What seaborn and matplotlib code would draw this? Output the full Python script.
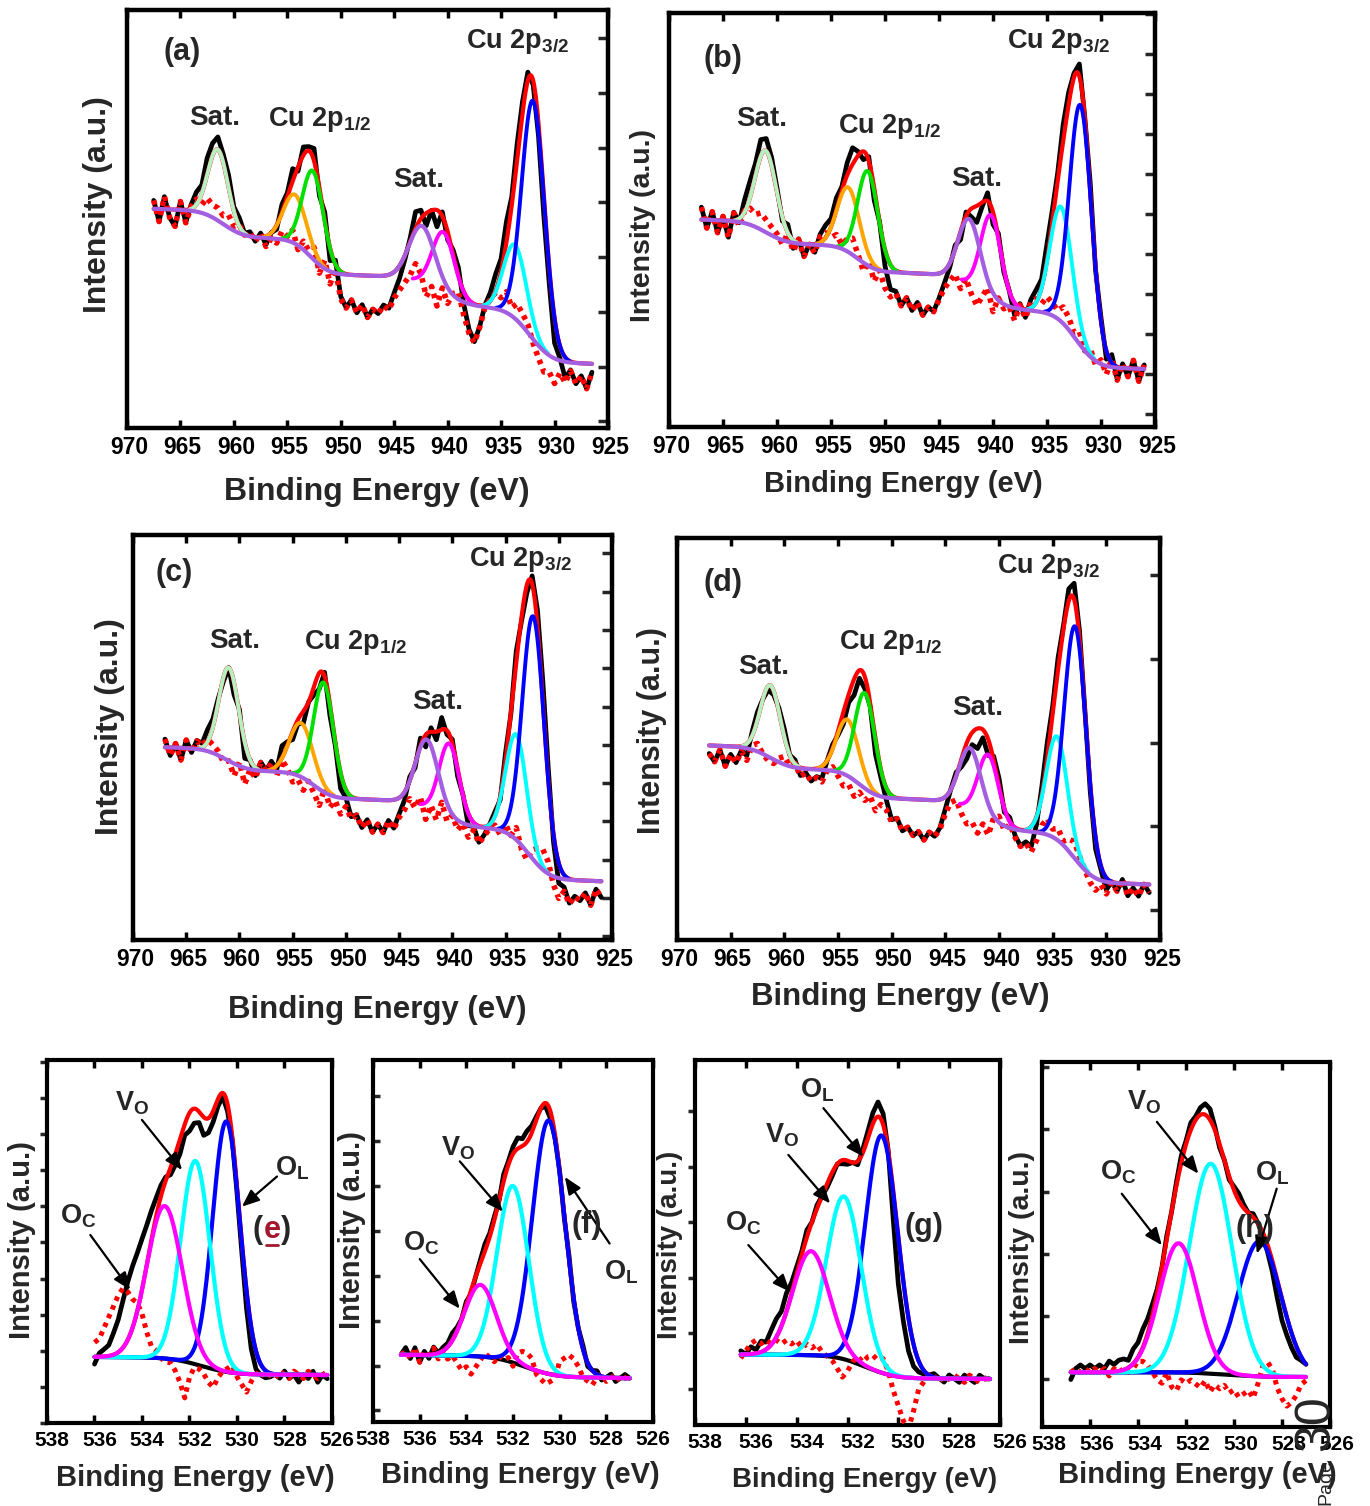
import math
import numpy as np
import pandas as pd
import seaborn as sns
import matplotlib.pyplot as plt
from matplotlib.transforms import ScaledTranslation

# ---------------------------------------------------------------- data
# Cu 2p spectra: grid start (eV), 0.5 eV steps, 83 points each
cu_step = 0.5
cu_start = [967.5, 967.0, 967.0, 967.0]
# residual (data - fit), intensity units (0-100 = axis height)
cu_res_a = [2, -3, 3, -2, -4, 2, -3, 1, 3, 2, 4, 3, 3, 2, 3, 1, 2, 0, 1, -1,
            1, -2, 0, -1, 2, 1, 3, -1, 2, 1, 3, -2, 2, -3, 1, -6, -8, -6, -9, -7,
            -10, -8, -9, -7, -8, -5, -3, -1, 1, 4, 2, -3, 0, -4, 1, -2, 1, 2, -3, -7,
            -9, -5, 0, 2, 4, 3, 5, 2, 4, 3, 2, -1, -3, -5, -4, -6, -3, -5, -2, -5,
            -3, -6, -2]
cu_res_b = [3, -2, 2, -3, 1, -4, 2, -1, 3, 4, 3, 4, 3, 2, 1, -1, 2, -2, 1, -3,
            0, -2, 2, 3, 2, 3, 1, 3, 4, 1, -2, 1, -3, 0, -4, -6, -5, -8, -6, -9,
            -7, -10, -8, -9, -6, -3, -1, 1, -2, 1, -2, -4, -1, 2, -3, 1, -1, 0, -3, 1,
            -2, 2, 3, 2, 4, 3, 2, 4, 3, 1, 3, 0, 2, -1, 1, -2, 2, -3, 1, -2,
            2, -3, 1]
cu_res_c = [2, -2, 1, -3, 2, -1, 2, 1, 3, 2, 1, -1, 0, -3, 1, -4, 0, -2, 2, 0,
            2, -1, 3, 1, -2, -1, -3, 0, -2, -4, 1, -3, -1, -4, -2, -5, -4, -7, -5, -8,
            -6, -8, -5, -7, -4, -2, 1, -1, 2, -3, 1, -2, 3, -1, 1, -2, 0, -3, -1, -4,
            -2, 0, 1, -1, 2, 0, 3, -1, -2, 2, 4, 5, 3, -2, -5, -3, -6, -4, -5, -3,
            -6, -2, -4]
cu_res_d = [-2, -4, -1, -5, -2, -4, -1, -3, 1, 2, 0, -1, -1, 1, 2, 0, 1, -2, -1, -3,
            -2, -3, 0, 1, -1, -3, -2, -4, -2, -3, -1, -4, -2, -3, -6, -5, -8, -7, -9, -8,
            -10, -8, -9, -7, -3, 0, 1, -2, -4, -3, -5, -2, -4, 1, 2, -1, 1, -2, -4, -3,
            -5, -2, 2, 4, 2, 3, 1, 3, 4, 2, 0, -2, -3, -1, -3, 0, -2, 1, -3, -1,
            -3, 0, -2]

# fitted Cu components: (centre eV, height, FWHM eV)
# order: Sat.(high), 2p1/2 a, 2p1/2 b, Sat. a, Sat. b, 2p3/2 a, 2p3/2 b
cu_peaks_a = [(961.5, 17.0, 2.2), (954.3, 11.7, 2.5), (952.6, 21.0, 2.3), (942.4, 13.5, 2.8),
              (940.4, 14.5, 2.4), (933.7, 17.6, 2.5), (932.0, 57.0, 2.5)]
cu_peaks_b = [(961.05, 19.7, 2.3), (953.4, 15.6, 2.4), (951.6, 22.8, 2.2), (942.2, 15.8, 2.4),
              (940.2, 20.0, 2.2), (933.7, 27.7, 2.4), (931.9, 58.0, 2.4)]
cu_peaks_c = [(961.0, 23.0, 2.2), (954.2, 13.3, 2.6), (952.1, 27.0, 2.2), (942.4, 16.8, 2.5),
              (940.3, 18.4, 2.2), (934.0, 26.0, 2.3), (932.4, 60.0, 2.4)]
cu_peaks_d = [(961.3, 18.0, 2.2), (954.1, 14.0, 2.4), (952.5, 23.7, 2.2), (942.7, 15.2, 2.4),
              (941.0, 16.0, 2.2), (934.6, 25.7, 2.3), (932.9, 57.8, 2.4)]
# Shirley-like background: base, slope, steps (centre, sigma, height)
cu_bg_a = (15.3, 0.1, [(932.3, 1.6, 12.5), (940.5, 2.0, 6.5), (952.8, 1.3, 8.0), (961.0, 1.5, 6.0)])
cu_bg_b = (14.0, 0.1, [(932.3, 1.5, 13.0), (941.0, 2.0, 8.0), (952.5, 1.3, 6.0), (961.0, 1.5, 5.0)])
cu_bg_c = (14.5, 0.1, [(932.8, 1.5, 12.0), (941.0, 2.0, 6.0), (953.0, 1.3, 6.0), (961.2, 1.5, 5.0)])
cu_bg_d = (13.8, 0.1, [(933.0, 1.5, 12.0), (941.5, 2.0, 7.0), (953.0, 1.3, 6.5), (961.3, 1.5, 5.0)])

# O 1s spectra: grid start (eV), 0.2 eV steps, 50 points each
o_step = 0.2
o_start = [536.0, 536.8, 536.2, 536.8]
o_dev_e = [-2, 1, 2, 3, 6, 9, 13, 16, 17, 16, 14, 11, 8, 5, 3, 1, -2, -3, -4, -3,
           -5, -4, -3, -5, -4, -3, -2, -1, -2, -1, -2, -3, -5, -6, -5, -3, -2, -1, 0, -1,
           1, -1, 0, -2, 0, -1, 1, -2, 0, -1]
o_res_e = [4, 5, 8, 11, 14, 17, 19, 18, 16, 15, 12, 7, 3, 2, 0, -1, -1, -3, -6, -10,
           -4, -1, -1, -2, -4, -5, -2, 0, 1, 2, -1, -3, -5, -2, 0, 1, -1, 0, -1, 1,
           0, -1, 1, 0, -1, 1, 0, -1, 0, 1]
o_dev_f = [0, 2, -1, 2, -2, 1, -1, 2, 0, 1, 1, 2, 1, 0, 1, -1, 0, 1, 2, 1,
           1, 0, 2, 1, 2, 3, 2, 3, 2, 1, 0, -1, -2, -1, 0, -1, 1, -1, 0, 1,
           -1, 0, 1, -1, 0, 1, -1, 0, 1, 0]
o_res_f = [0, 1, -1, 2, -2, 1, 0, 2, -1, 1, -1, 0, -2, -4, -3, -5, -3, -1, 1, 0,
           -1, 1, 0, 1, -1, 3, 4, 4, 3, -1, -2, -3, -2, -1, 4, 5, 6, 5, 3, 0,
           -1, -2, 0, 1, -1, 0, 1, -1, 0, 1]
o_dev_g = [1, 0, 2, 1, 3, 2, 4, 5, 4, 5, 3, 2, 1, 2, 0, 1, 0, -1, -1, 0,
           -1, -1, 0, -1, 1, 2, 3, 4, 3, 0, -8, -13, -11, -9, -6, -3, -1, 0, 1, 0,
           -1, 1, 0, -1, 1, 0, -1, 1, 0, 0]
o_res_g = [-1, 1, 3, 4, 3, 4, 3, 4, 3, 4, 3, 4, 2, 3, 2, 3, 1, 0, -1, -3,
           -5, -3, 0, 2, 1, 3, 4, 3, 4, 1, -4, -8, -12, -14, -9, -3, -1, 1, 0, 1,
           -1, 0, 1, 0, -1, 1, 0, -1, 0, 1]
o_dev_h = [-2, 1, 2, 1, 2, 1, 2, 1, 3, 2, 3, 3, 2, 4, 4, 5, 4, 3, 1, 0,
           1, 0, 1, 2, 1, 2, 1, 2, 3, 3, 1, -1, 0, -1, 1, 2, 1, 0, 1, 0,
           -1, -2, -3, -5, -6, -5, -4, -3, -1, 0]
o_res_h = [0, 1, 0, 1, 0, 1, 0, 1, -1, 1, 0, 1, 0, 1, 3, 3, 2, 0, -2, -3,
           0, -4, -5, -2, -3, -2, -3, -4, -2, -5, -3, -4, -3, -5, -4, -6, -5, -4, -6, -2,
           3, 4, 2, -3, -6, -8, -7, -5, -2, -1]
# fitted O components: O_C, V_O, O_L  (centre eV, height, FWHM eV)
o_peaks_e = [(533.05, 42.0, 1.75), (531.75, 56.0, 1.45), (530.45, 69.0, 1.35)]
o_peaks_f = [(533.4, 19.8, 1.6), (532.0, 48.8, 1.6), (530.47, 70.0, 1.65)]
o_peaks_g = [(533.44, 28.5, 1.7), (532.14, 44.6, 1.6), (530.66, 65.0, 1.5)]
o_peaks_h = [(532.31, 35.4, 1.9), (530.97, 57.5, 2.1), (528.94, 37.0, 2.1)]
o_bg_e = (13.2, 0.05, [(531.5, 1.0, 4.5)])
o_bg_f = (12.0, 0.10, [(531.5, 1.0, 5.5)])
o_bg_g = (12.6, 0.05, [(531.3, 0.9, 6.2)])
o_bg_h = (13.7, 0.0, [(530.3, 1.2, 1.3)])

cu_tags = ['(a)', '(b)', '(c)', '(d)']
o_tags = ['(e)', '(f)', '(g)', '(h)']
cu_ticks = list(range(970, 924, -5))
o_ticks = list(range(538, 525, -2))

# ---------------------------------------------------------------- style
sns.set_theme(style='white')
plt.rcParams['font.family'] = ['Liberation Sans', 'DejaVu Sans']
plt.rcParams['font.weight'] = 'bold'
plt.rcParams['mathtext.fontset'] = 'custom'
plt.rcParams['mathtext.rm'] = 'Liberation Sans:bold'
plt.rcParams['mathtext.bf'] = 'Liberation Sans:bold'
plt.rcParams['mathtext.it'] = 'Liberation Sans:bold'

W, H = 1370, 1506
fig = plt.figure(figsize=(W / 100, H / 100), dpi=100)

cu_colors = ['#b4f0c0', '#ffa500', '#00e000', '#a45ee0', '#ff00ff', '#00ffff', '#0000ff']
o_colors = ['#ff00ff', '#00ffff', '#0000ff']
erf_v = np.vectorize(math.erf)


def rect(l, t, r, b):
    return [l / W, 1 - b / H, (r - l) / W, (b - t) / H]


def gauss(E, c, h, w):
    return h * np.exp(-4 * np.log(2) * (E - c) ** 2 / w ** 2)


def background(E, par, e_ref):
    base, slope, steps = par
    y = base + slope * (E - e_ref)
    for c, s, h in steps:
        y = y + h * 0.5 * (1 + erf_v((E - c) / (np.sqrt(2) * s)))
    return y


def frame(ax, xlim, ticks, label_dx, spine_w, label_size):
    ax.set_xlim(*xlim)
    ax.set_ylim(0, 100)
    ax.set_xticks(ticks)
    ax.set_xlabel('')
    ax.set_ylabel('')
    for sp in ax.spines.values():
        sp.set_linewidth(spine_w)
        sp.set_color('black')
    ax.tick_params(axis='x', direction='in', top=True, bottom=True, length=6, width=2.5,
                   labelsize=label_size, pad=6, colors='black')
    off = ScaledTranslation(label_dx / 100, 0, fig.dpi_scale_trans)
    for lab in ax.get_xticklabels():
        lab.set_fontweight('bold')
        lab.set_transform(lab.get_transform() + off)


def cu_panel(ax, start, res, peaks, bgp):
    E = start - cu_step * np.arange(len(res))
    F = np.linspace(E[0], E[-1], 600)
    res = np.array(res, dtype=float)
    bgE = background(E, bgp, 926.0)
    bgF = background(F, bgp, 926.0)
    envE = bgE + sum(gauss(E, *p) for p in peaks)
    compF = [gauss(F, *p) for p in peaks]
    envF = bgF + sum(compF)
    df = pd.DataFrame({'E': E, 'counts': envE + res, 'resid': bgE + res})
    sns.lineplot(data=df, x='E', y='counts', ax=ax, color='black', lw=3.4, zorder=2)
    ax.plot(df['E'], df['resid'], color='red', lw=4.0, ls=(0, (0.8, 0.9)), zorder=3)
    sns.lineplot(x=F, y=envF, ax=ax, color='red', lw=3.0, zorder=4)
    for i, (comp, col) in enumerate(zip(compF, cu_colors)):
        y = bgF + comp
        if i == 3:
            sns.lineplot(x=F, y=y, ax=ax, color=col, lw=3.0, zorder=6)
        else:
            m = comp > 0.25
            sns.lineplot(x=F[m], y=y[m], ax=ax, color=col, lw=2.8, zorder=5)


def o_panel(ax, start, dev, res, peaks, bgp):
    E = start - o_step * np.arange(len(dev))
    F = np.linspace(E[0], E[-1], 500)
    bgE = background(E, bgp, 526.0)
    bgF = background(F, bgp, 526.0)
    envE = bgE + sum(gauss(E, *p) for p in peaks)
    compF = [gauss(F, *p) for p in peaks]
    envF = bgF + sum(compF)
    df = pd.DataFrame({'E': E, 'counts': envE + np.array(dev, float),
                       'resid': bgE + np.array(res, float)})
    sns.lineplot(data=df, x='E', y='counts', ax=ax, color='black', lw=3.4, zorder=2)
    sns.lineplot(x=F, y=bgF, ax=ax, color='black', lw=3.0, zorder=2.5)
    ax.plot(df['E'], df['resid'], color='red', lw=3.6, ls=(0, (0.9, 1.0)), zorder=3)
    sns.lineplot(x=F, y=envF, ax=ax, color='red', lw=3.0, zorder=4)
    for i in (2, 1, 0):
        sns.lineplot(x=F, y=bgF + compF[i], ax=ax, color=o_colors[i], lw=3.0, zorder=5 + (2 - i))


def arrow(ax, start, end):
    ax.annotate('', xy=end, xytext=start, xycoords='axes fraction', textcoords='axes fraction',
                arrowprops=dict(arrowstyle='-|>,head_length=0.8,head_width=0.33', color='black',
                                lw=1.6, mutation_scale=13, shrinkA=0, shrinkB=0), zorder=10)


def figtext(x, y, s, size, rot=0, weight='bold'):
    fig.text(x / W, 1 - y / H, s, fontsize=size, rotation=rot, ha='center', va='center',
             fontweight=weight)


# ---------------------------------------------------------------- Cu 2p panels
cu_rects = [(127, 10, 608, 428), (669, 13, 1155, 427), (133, 535, 612, 940), (677, 538, 1160, 940)]
cu_res = [cu_res_a, cu_res_b, cu_res_c, cu_res_d]
cu_peaks = [cu_peaks_a, cu_peaks_b, cu_peaks_c, cu_peaks_d]
cu_bgs = [cu_bg_a, cu_bg_b, cu_bg_c, cu_bg_d]
cu_yticks = [(1.6, 13.1), (3.2, 9.65), (0.95, 9.45), (7.5, 20.8)]
cu_text_pos = [
    [(0.114, 0.900), (0.183, 0.741), (0.401, 0.737), (0.606, 0.594), (0.813, 0.924)],
    [(0.111, 0.890), (0.190, 0.745), (0.454, 0.725), (0.633, 0.600), (0.801, 0.930)],
    [(0.085, 0.907), (0.212, 0.739), (0.465, 0.735), (0.637, 0.588), (0.810, 0.940)],
    [(0.096, 0.888), (0.180, 0.680), (0.442, 0.739), (0.622, 0.577), (0.770, 0.929)],
]
cu_xlab = [(377, 492, 23), (903, 484, 21), (377, 1010, 22.5), (900, 997, 22.5)]
cu_ylab = [(98, 205, 23), (643, 226, 20.5), (110, 727, 23), (652, 731, 22)]

for k in range(4):
    ax = fig.add_axes(rect(*cu_rects[k]))
    cu_panel(ax, cu_start[k], cu_res[k], cu_peaks[k], cu_bgs[k])
    frame(ax, (970, 925), cu_ticks, 2, 3.2, 16.5)
    y0, dy = cu_yticks[k]
    ax.set_yticks(np.arange(y0, 100, dy))
    ax.tick_params(axis='y', direction='in', left=False, right=True, labelleft=False,
                   length=7, width=2.5)
    tp = cu_text_pos[k]
    ax.text(*tp[0], cu_tags[k], transform=ax.transAxes, fontsize=22, ha='center', va='center')
    ax.text(*tp[1], 'Sat.', transform=ax.transAxes, fontsize=20, ha='center', va='center')
    ax.text(*tp[2], r'Cu 2p$_{\mathrm{1/2}}$', transform=ax.transAxes, fontsize=19.5,
            ha='center', va='center')
    ax.text(*tp[3], 'Sat.', transform=ax.transAxes, fontsize=20, ha='center', va='center')
    ax.text(*tp[4], r'Cu 2p$_{\mathrm{3/2}}$', transform=ax.transAxes, fontsize=19.5,
            ha='center', va='center')
    figtext(cu_xlab[k][0], cu_xlab[k][1], 'Binding Energy (eV)', cu_xlab[k][2])
    figtext(cu_ylab[k][0], cu_ylab[k][1], 'Intensity (a.u.)', cu_ylab[k][2], rot=90)

# ---------------------------------------------------------------- O 1s panels
o_rects = [(47, 1060, 332, 1423), (373, 1060, 653, 1422), (695, 1060, 1000, 1425),
           (1042, 1062, 1330, 1427)]
o_devs = [o_dev_e, o_dev_f, o_dev_g, o_dev_h]
o_ress = [o_res_e, o_res_f, o_res_g, o_res_h]
o_peaks = [o_peaks_e, o_peaks_f, o_peaks_g, o_peaks_h]
o_bgs = [o_bg_e, o_bg_f, o_bg_g, o_bg_h]
o_label_dx = [5, 0, 10, 7]
o_yticks = [(0.0, 9.95, 'out'), (3.2, 12.4, 'in'), (10.0, 15.2, 'out'), (13.2, 17.1, 'in')]
o_names = [r'$\mathrm{O}_{\mathrm{C}}$', r'$\mathrm{V}_{\mathrm{O}}$', r'$\mathrm{O}_{\mathrm{L}}$']
# (text position, arrow start, arrow end) for O_C, V_O, O_L; then tag position
o_annot = [
    [((0.111, 0.569), (0.152, 0.518), (0.292, 0.367)),
     ((0.298, 0.881), (0.333, 0.835), (0.474, 0.697)),
     ((0.860, 0.702), (0.807, 0.679), (0.684, 0.596)), (0.789, 0.532)],
    [((0.173, 0.493), (0.167, 0.450), (0.310, 0.313)),
     ((0.304, 0.756), (0.310, 0.720), (0.464, 0.581)),
     ((0.887, 0.415), (0.845, 0.493), (0.685, 0.677)), (0.762, 0.544)],
    [((0.158, 0.553), (0.175, 0.493), (0.311, 0.365)),
     ((0.284, 0.795), (0.306, 0.740), (0.443, 0.607)),
     ((0.399, 0.918), (0.421, 0.868), (0.552, 0.735)), (0.749, 0.543)],
    [((0.266, 0.699), (0.277, 0.639), (0.416, 0.498)),
     ((0.353, 0.890), (0.399, 0.836), (0.543, 0.694)),
     ((0.798, 0.694), (0.815, 0.653), (0.746, 0.475)), (0.740, 0.543)],
]
o_xlab = [(195, 1478, 21), (520, 1475, 21), (865, 1480, 20), (1197, 1475, 21)]
o_ylab = [(22, 1240, 21), (352, 1230, 21), (670, 1245, 20), (1022, 1247, 20.5)]

for k in range(4):
    ax = fig.add_axes(rect(*o_rects[k]))
    o_panel(ax, o_start[k], o_devs[k], o_ress[k], o_peaks[k], o_bgs[k])
    frame(ax, (538, 526), o_ticks, o_label_dx[k], 3.0, 15)
    y0, dy, direc = o_yticks[k]
    ax.set_yticks(np.arange(y0, 100.5, dy))
    ax.tick_params(axis='y', direction=direc, left=True, right=False, labelleft=False,
                   length=5, width=2.5)
    ann = o_annot[k]
    for j in range(3):
        pos, a0, a1 = ann[j]
        ax.text(*pos, o_names[j], transform=ax.transAxes, fontsize=19.5, ha='center',
                va='center', zorder=11)
        arrow(ax, a0, a1)
    tx, ty = ann[3]
    if k == 0:
        ax.annotate('e', (tx, ty), xycoords='axes fraction', ha='center', va='center',
                    fontsize=22, color='#a3182e', zorder=11)
        ax.annotate('(', (tx, ty), xycoords='axes fraction', xytext=(-6.5, 0),
                    textcoords='offset points', ha='right', va='center', fontsize=22, zorder=11)
        ax.annotate(')', (tx, ty), xycoords='axes fraction', xytext=(6.5, 0),
                    textcoords='offset points', ha='left', va='center', fontsize=22, zorder=11)
        ax.plot([tx - 0.022, tx + 0.022], [ty - 0.043, ty - 0.043], transform=ax.transAxes,
                color='#a3182e', lw=2, zorder=11)
    else:
        ax.text(tx, ty, o_tags[k], transform=ax.transAxes, fontsize=22, ha='center',
                va='center', zorder=11)
    figtext(o_xlab[k][0], o_xlab[k][1], 'Binding Energy (eV)', o_xlab[k][2])
    figtext(o_ylab[k][0], o_ylab[k][1], 'Intensity (a.u.)', o_ylab[k][2], rot=90)

# page number remnants from the source document
figtext(1316, 1423, '30', 36, rot=90, weight='normal')
figtext(1326, 1482, 'Page', 14, rot=90, weight='normal')

fig.savefig('out.png', dpi=100)
